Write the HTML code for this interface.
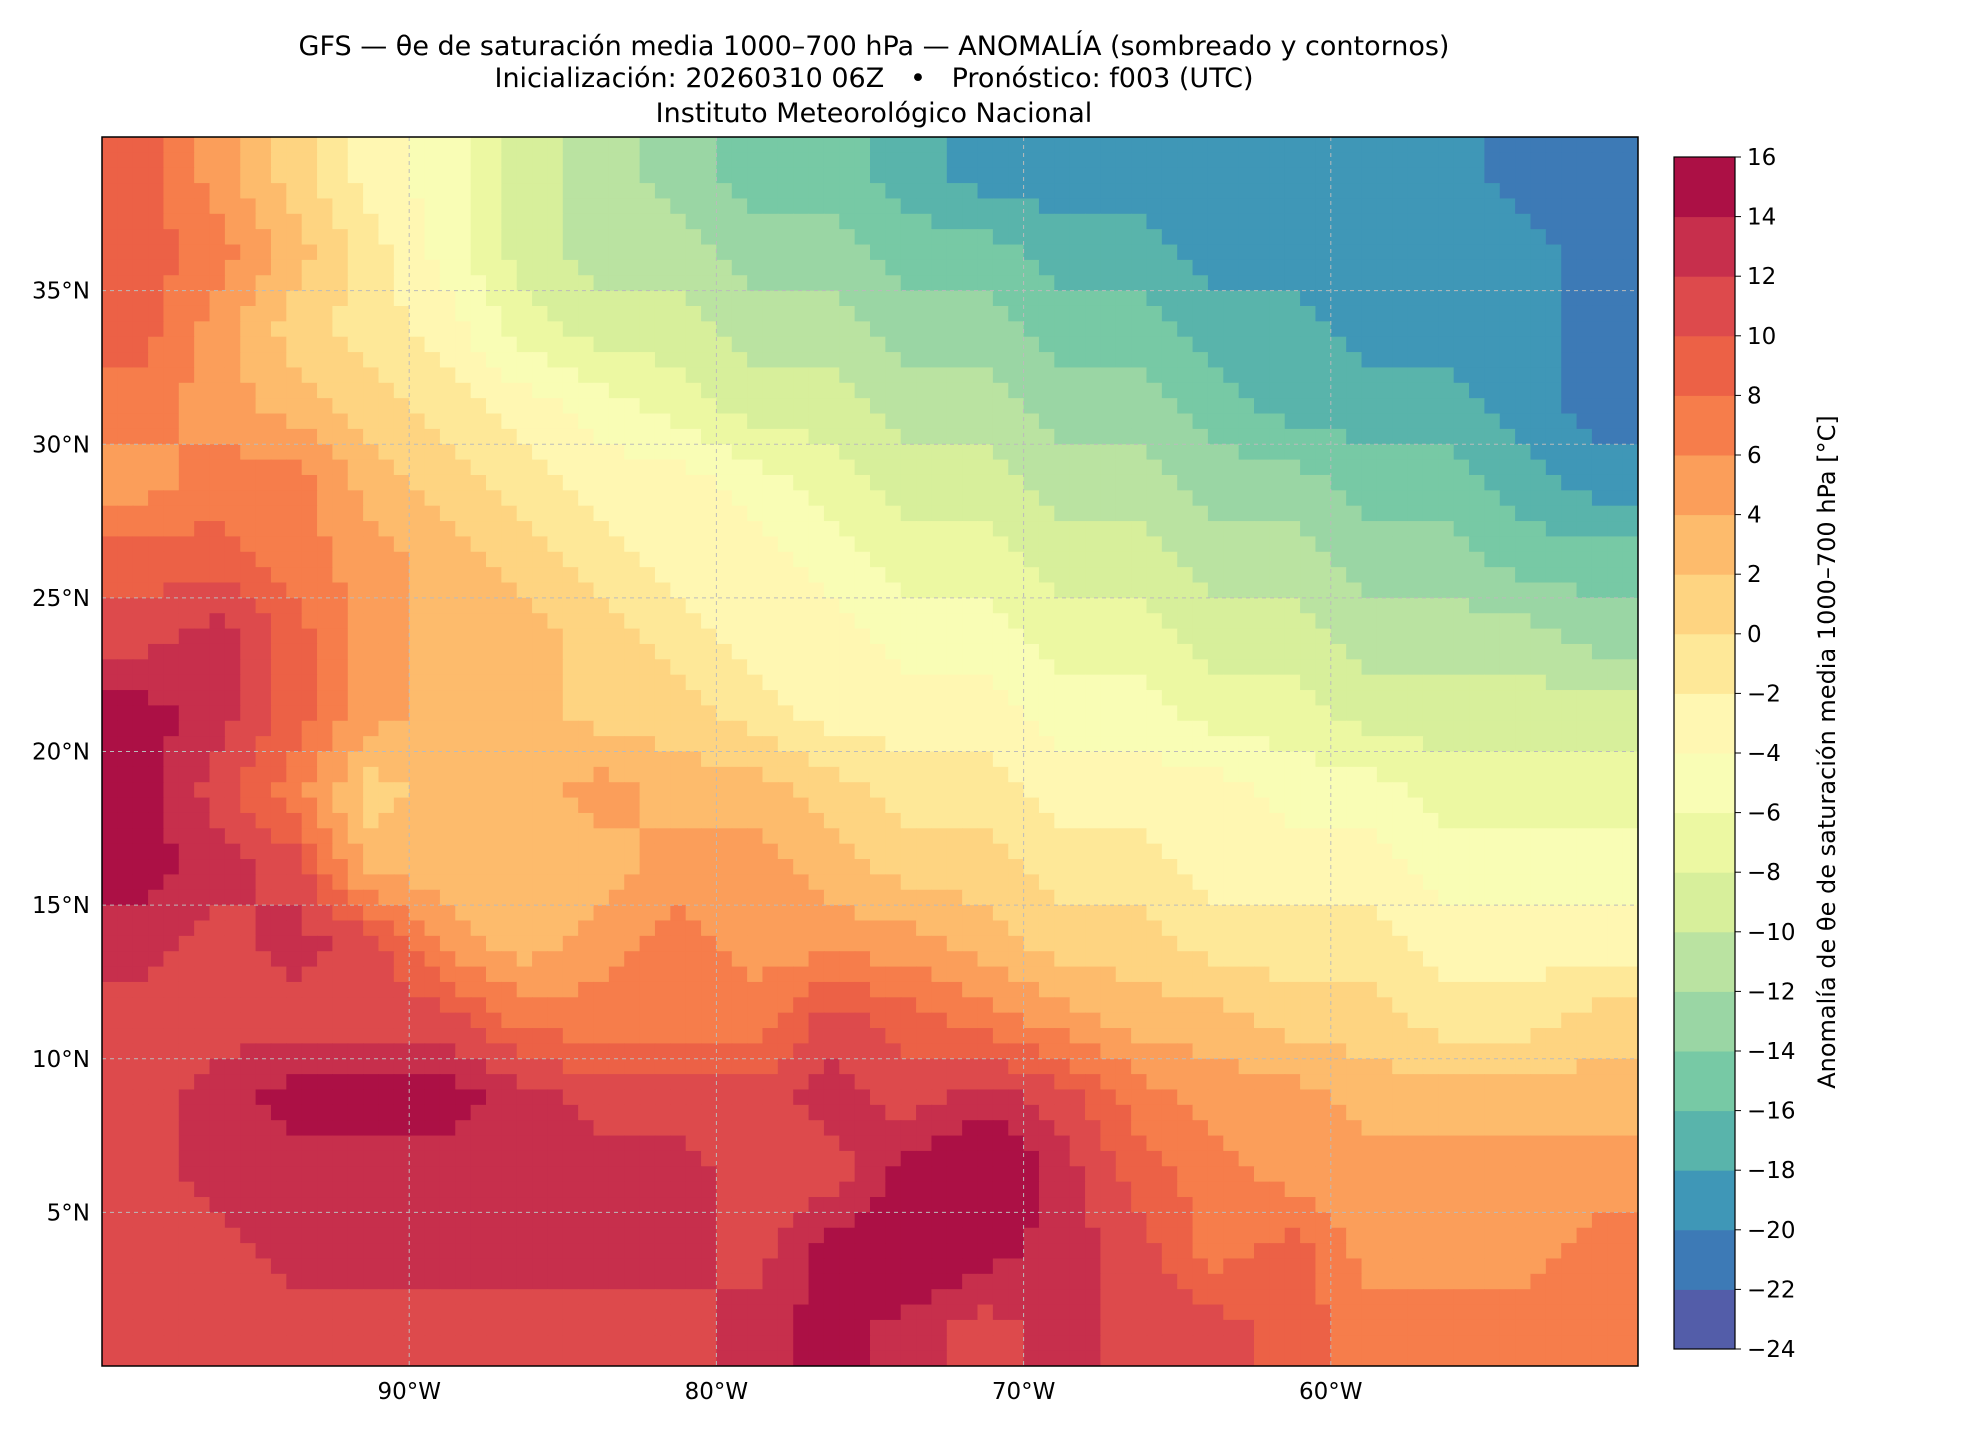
<!DOCTYPE html>
<html><head><meta charset="utf-8"><style>
html,body{margin:0;padding:0;background:#fff;}
svg{display:block;font-family:"DejaVu Sans","Liberation Sans",sans-serif;}
</style></head><body>
<svg id="fig" width="1980" height="1440" viewBox="0 0 1980 1440">
<g font-size="27" text-anchor="middle" fill="#000">
<text x="874" y="55">GFS — θe de saturación media 1000–700 hPa — ANOMALÍA (sombreado y contornos)</text>
<text x="874" y="87" xml:space="preserve">Inicialización: 20260310 06Z   •   Pronóstico: f003 (UTC)</text>
<text x="874" y="122">Instituto Meteorológico Nacional</text>
</g>
<g id="field"></g>
<g id="grid"></g>
<rect x="102" y="137" width="1536" height="1229" fill="none" stroke="#000" stroke-width="1.5"/>
<g id="axes" font-size="23" fill="#000"></g>
<g id="cbar"></g>
<text transform="translate(1835,752) rotate(-90)" text-anchor="middle" font-size="24">Anomalía de θe de saturación media 1000–700 hPa [°C]</text>
</svg>
<script>
const lons = [-98.75,-96.25,-93.75,-91.25,-88.75,-86.25,-83.75,-81.25,-78.75,-76.25,-73.75,-71.25,-68.75,-66.25,-63.75,-61.25,-58.75,-56.25,-53.75,-51.25];
const lats = [38.75,36.25,33.75,31.25,28.75,26.25,23.75,21.25,18.75,16.25,13.75,11.25,8.75,6.25,3.75,1.25];
const values = [
[8,4,0,-4,-6,-10,-12,-14,-16,-16,-18,-20,-20,-20,-20,-20,-20,-20,-22,-22],
[8,6,2,-2,-6,-10,-12,-12,-14,-14,-16,-16,-18,-18,-20,-20,-20,-20,-20,-22],
[8,4,0,-2,-4,-8,-10,-10,-12,-12,-14,-14,-16,-16,-18,-18,-20,-20,-20,-22],
[6,4,2,0,-2,-4,-6,-8,-10,-10,-12,-12,-14,-14,-16,-18,-18,-18,-20,-22],
[4,6,6,2,0,-2,-4,-4,-6,-8,-10,-10,-12,-12,-14,-14,-16,-16,-18,-20],
[8,8,6,4,2,0,-2,-4,-4,-6,-8,-8,-10,-10,-12,-12,-14,-14,-16,-16],
[10,12,8,4,2,2,0,-2,-4,-4,-6,-6,-8,-8,-10,-10,-12,-12,-12,-14],
[14,12,8,4,2,2,0,0,-2,-4,-4,-4,-6,-6,-8,-8,-10,-10,-10,-10],
[14,10,6,0,2,2,4,2,2,0,-2,-2,-4,-4,-4,-6,-6,-8,-8,-8],
[14,12,10,2,2,2,2,4,4,2,0,0,-2,-2,-4,-4,-4,-6,-6,-6],
[12,10,12,10,4,2,4,6,4,4,4,2,0,0,-2,-2,-2,-4,-4,-4],
[10,10,10,10,10,6,6,6,6,10,8,6,4,2,2,0,0,-2,-2,0],
[10,12,14,14,14,12,10,10,10,12,10,12,10,6,4,4,2,2,2,2],
[10,12,12,12,12,12,12,12,10,10,14,16,12,8,6,4,4,4,4,4],
[10,10,12,12,12,12,12,12,10,14,16,14,12,10,6,8,4,4,4,6],
[10,10,10,10,10,10,10,10,12,14,12,10,12,10,10,8,6,6,6,6]
];
const levels = [-24,-22,-20,-18,-16,-14,-12,-10,-8,-6,-4,-2,0,2,4,6,8,10,12,14,16];
const lonTicks = [-90,-80,-70,-60];
const lonTickLabels = ["90°W","80°W","70°W","60°W"];
const latTicks = [5,10,15,20,25,30,35];
const latTickLabels = ["5°N","10°N","15°N","20°N","25°N","30°N","35°N"];

const NS='http://www.w3.org/2000/svg';
const X0=102,X1=1638,Y0=137,Y1=1366;
const xOf=lon=>X0+(lon+100)/50*(X1-X0);
const yOf=lat=>Y1-(lat-0)/40*(Y1-Y0);
const spec=["#9e0142","#d53e4f","#f46d43","#fdae61","#fee08b","#ffffbf","#e6f598","#abdda4","#66c2a5","#3288bd","#5e4fa2"].reverse();
function hex(h){return [1,3,5].map(i=>parseInt(h.substr(i,2),16));}
function cmap(t){const s=t*10,i=Math.min(9,Math.floor(s)),f=s-i;const a=hex(spec[i]),b=hex(spec[i+1]);
return 'rgb('+a.map((v,k)=>Math.round(v+(b[k]-v)*f)).join(',')+')';}
const nb=levels.length-1;
function bandColor(v){let i=Math.floor((v+1-levels[0])/2);i=Math.max(0,Math.min(nb-1,i));return cmap((i+0.5)/nb);}
function sample(lon,lat){
 let fi=(lon-lons[0])/2.5, fj=(lats[0]-lat)/2.5;
 fi=Math.max(0,Math.min(lons.length-1.001,fi)); fj=Math.max(0,Math.min(lats.length-1.001,fj));
 const i=Math.floor(fi),j=Math.floor(fj),a=fi-i,b=fj-j;
 return values[j][i]*(1-a)*(1-b)+values[j][i+1]*a*(1-b)+values[j+1][i]*(1-a)*b+values[j+1][i+1]*a*b;
}
const field=document.getElementById('field');
const step=0.5;
for(let lat=40;lat>0;lat-=step){for(let lon=-100;lon<-50;lon+=step){
 const v=sample(lon+step/2,lat-step/2);
 const r=document.createElementNS(NS,'rect');
 const x=xOf(lon),y=yOf(lat);
 r.setAttribute('x',x.toFixed(2));r.setAttribute('y',y.toFixed(2));
 r.setAttribute('width',(Math.min(X1,xOf(lon+step)+0.6)-x).toFixed(2));r.setAttribute('height',(Math.min(Y1,yOf(lat-step)+0.6)-y).toFixed(2));
 r.setAttribute('fill',bandColor(v));
 
 
 field.appendChild(r);
}}
const grid=document.getElementById('grid'),axes=document.getElementById('axes');
lonTicks.forEach((lon,k)=>{
 const x=xOf(lon);
 const l=document.createElementNS(NS,'line');
 l.setAttribute('x1',x);l.setAttribute('x2',x);l.setAttribute('y1',Y0);l.setAttribute('y2',Y1);
 l.setAttribute('stroke','#bbb');l.setAttribute('stroke-dasharray','4,4');l.setAttribute('stroke-width','1');
 
 
 grid.appendChild(l);
 const t=document.createElementNS(NS,'text');
 t.setAttribute('x',x);t.setAttribute('y',Y1+33);t.setAttribute('text-anchor','middle');t.textContent=lonTickLabels[k];
 
 
 axes.appendChild(t);
});
latTicks.forEach((lat,k)=>{
 const y=yOf(lat);
 const l=document.createElementNS(NS,'line');
 l.setAttribute('x1',X0);l.setAttribute('x2',X1);l.setAttribute('y1',y);l.setAttribute('y2',y);
 l.setAttribute('stroke','#bbb');l.setAttribute('stroke-dasharray','4,4');l.setAttribute('stroke-width','1');
 
 
 grid.appendChild(l);
 const t=document.createElementNS(NS,'text');
 t.setAttribute('x',X0-12);t.setAttribute('y',y+8);t.setAttribute('text-anchor','end');t.textContent=latTickLabels[k];
 
 
 axes.appendChild(t);
});
const cb=document.getElementById('cbar');
const CX=1674,CW=61,CT=157,CB=1349,bh=(CB-CT)/nb;
for(let i=0;i<nb;i++){
 const r=document.createElementNS(NS,'rect');
 r.setAttribute('x',CX);r.setAttribute('y',(CB-(i+1)*bh).toFixed(2));r.setAttribute('width',CW);r.setAttribute('height',(bh+0.5).toFixed(2));
 r.setAttribute('fill',cmap((i+0.5)/nb));
 
 
 cb.appendChild(r);
}
const fr=document.createElementNS(NS,'rect');
fr.setAttribute('x',CX);fr.setAttribute('y',CT);fr.setAttribute('width',CW);fr.setAttribute('height',CB-CT);
fr.setAttribute('fill','none');fr.setAttribute('stroke','#000');fr.setAttribute('stroke-width','1.2');


cb.appendChild(fr);
levels.forEach((lv,i)=>{
 const y=CB-i*bh;
 const tk=document.createElementNS(NS,'line');
 tk.setAttribute('x1',CX+CW);tk.setAttribute('x2',CX+CW+6);tk.setAttribute('y1',y);tk.setAttribute('y2',y);tk.setAttribute('stroke','#000');
 
 
 cb.appendChild(tk);
 const t=document.createElementNS(NS,'text');
 t.setAttribute('x',CX+CW+12);t.setAttribute('y',y+8);t.setAttribute('font-size','23');
 t.textContent=lv<0?'−'+Math.abs(lv):String(lv);
 
 
 cb.appendChild(t);
});
</script>
</body></html>
